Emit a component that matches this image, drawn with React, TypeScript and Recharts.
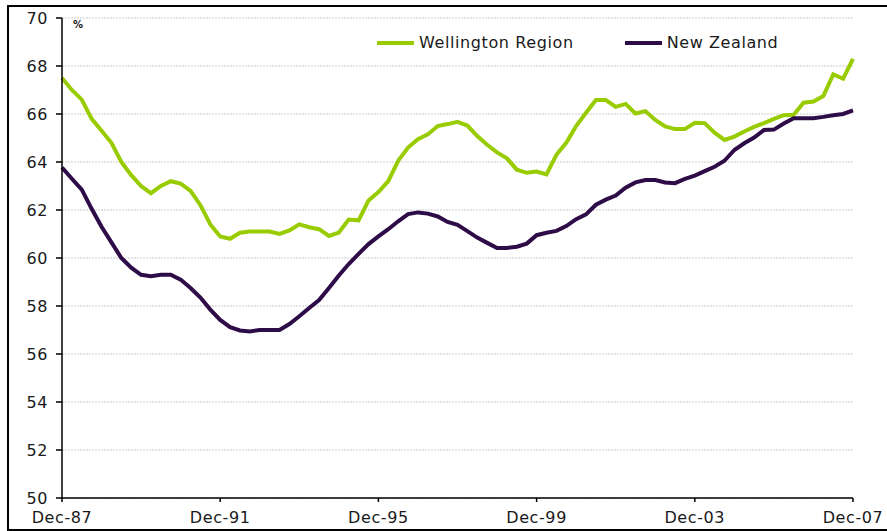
import React from 'react';
import { LineChart, Line, XAxis, YAxis, CartesianGrid, Legend } from 'recharts';

// quarterly, Dec-87 .. Dec-07
const months = ['Dec', 'Mar', 'Jun', 'Sep'];
const quarters: string[] = [];
for (let i = 0; i <= 80; i++) {
  const yr = 87 + Math.ceil(i / 4);
  quarters.push(`${months[i % 4]}-${String(yr % 100).padStart(2, '0')}`);
}

const xTicks = ['Dec-87', 'Dec-91', 'Dec-95', 'Dec-99', 'Dec-03', 'Dec-07'];
const yTicks = [50, 52, 54, 56, 58, 60, 62, 64, 66, 68, 70];

const wellington = [
  67.5, 67.0, 66.6, 65.8, 65.3, 64.8, 64.0, 63.45, 63.0, 62.7,
  63.0, 63.2, 63.1, 62.8, 62.2, 61.4, 60.9, 60.8, 61.05, 61.1,
  61.1, 61.1, 61.0, 61.15, 61.4, 61.28, 61.2, 60.92, 61.06, 61.6,
  61.57, 62.4, 62.75, 63.2, 64.05, 64.6, 64.95, 65.15, 65.5, 65.58,
  65.67, 65.52, 65.08, 64.72, 64.4, 64.15, 63.68, 63.55, 63.6, 63.48,
  64.3, 64.8, 65.5, 66.05, 66.58, 66.58, 66.3, 66.42, 66.02, 66.12,
  65.75, 65.48, 65.37, 65.37, 65.63, 65.62, 65.22, 64.92, 65.06, 65.27,
  65.46, 65.62, 65.8, 65.95, 65.97, 66.47, 66.52, 66.75, 67.65, 67.47,
  68.3,
];

const newZealand = [
  63.77, 63.3, 62.85, 62.05, 61.3, 60.65, 60.0, 59.6, 59.3, 59.24,
  59.3, 59.3, 59.1, 58.75, 58.35, 57.85, 57.42, 57.12, 56.98, 56.94,
  57.0, 57.0, 57.0, 57.25, 57.57, 57.92, 58.25, 58.75, 59.27, 59.75,
  60.17, 60.58, 60.9, 61.2, 61.53, 61.83, 61.9, 61.85, 61.73, 61.5,
  61.38, 61.12, 60.85, 60.63, 60.42, 60.42, 60.47, 60.6, 60.95, 61.05,
  61.13, 61.33, 61.62, 61.82, 62.22, 62.43, 62.6, 62.93, 63.15, 63.25,
  63.25, 63.15, 63.12, 63.3, 63.43, 63.62, 63.8, 64.05, 64.5, 64.78,
  65.02, 65.33, 65.35, 65.6, 65.82, 65.82, 65.82, 65.88, 65.95, 66.0,
  66.15,
];

const GREEN = '#99cc00';
const PURPLE = '#2e0c48';
const FONT = '"DejaVu Sans", Verdana, sans-serif';

const data = quarters.map((q, i) => ({ q, wellington: wellington[i], nz: newZealand[i] }));

const renderLegend = () => (
  <div style={{ display: 'flex', fontFamily: FONT, fontSize: 16, letterSpacing: 0.6, color: '#1a1a1a', whiteSpace: 'nowrap' }}>
    {[
      { name: 'Wellington Region', color: GREEN },
      { name: 'New Zealand', color: PURPLE },
    ].map((it, i) => (
      <div key={it.name} style={{ display: 'flex', alignItems: 'center', marginLeft: i ? 51 : 0 }}>
        <div style={{ width: 37, height: 4, background: it.color, marginRight: 5 }} />
        <span>{it.name}</span>
      </div>
    ))}
  </div>
);

export default function App() {
  return (
    <div style={{ position: 'fixed', left: 0, top: 0, width: 887, height: 531, overflow: 'hidden', background: '#fff' }}>
      <div style={{ position: 'absolute', left: 7, top: 5, width: 900, height: 522, border: '2px solid #000' }} />
      <LineChart width={887} height={531} data={data} margin={{ top: 18, right: 34, left: 0, bottom: 0 }}>
        <CartesianGrid horizontal vertical={false} stroke="#cccccc" strokeDasharray="2 1" />
        <XAxis
          dataKey="q"
          ticks={xTicks}
          interval={0}
          height={33}
          tickSize={4}
          tickMargin={10}
          axisLine={{ stroke: '#000', strokeWidth: 1.5 }}
          tickLine={{ stroke: '#000', strokeWidth: 1.5 }}
          tick={{ fill: '#1a1a1a', fontSize: 16, fontFamily: FONT, letterSpacing: 0.6 }}
        />
        <YAxis
          domain={[50, 70]}
          ticks={yTicks}
          interval={0}
          width={62}
          tickSize={6}
          tickMargin={8}
          axisLine={{ stroke: '#000', strokeWidth: 1.5 }}
          tickLine={{ stroke: '#000', strokeWidth: 1.5 }}
          tick={{ fill: '#1a1a1a', fontSize: 16, fontFamily: FONT, letterSpacing: 0.6 }}
        />
        <Legend
          layout="horizontal"
          verticalAlign="middle"
          align="center"
          content={renderLegend}
          wrapperStyle={{ top: 33, left: 377, width: 'auto' }}
        />
        <Line type="linear" dataKey="wellington" name="Wellington Region" stroke={GREEN} strokeWidth={4} dot={false} isAnimationActive={false} />
        <Line type="linear" dataKey="nz" name="New Zealand" stroke={PURPLE} strokeWidth={4} dot={false} isAnimationActive={false} />
      </LineChart>
      <div style={{ position: 'absolute', left: 73, top: 19, fontFamily: FONT, fontSize: 10, fontWeight: 'bold', color: '#1a1a1a' }}>%</div>
    </div>
  );
}
